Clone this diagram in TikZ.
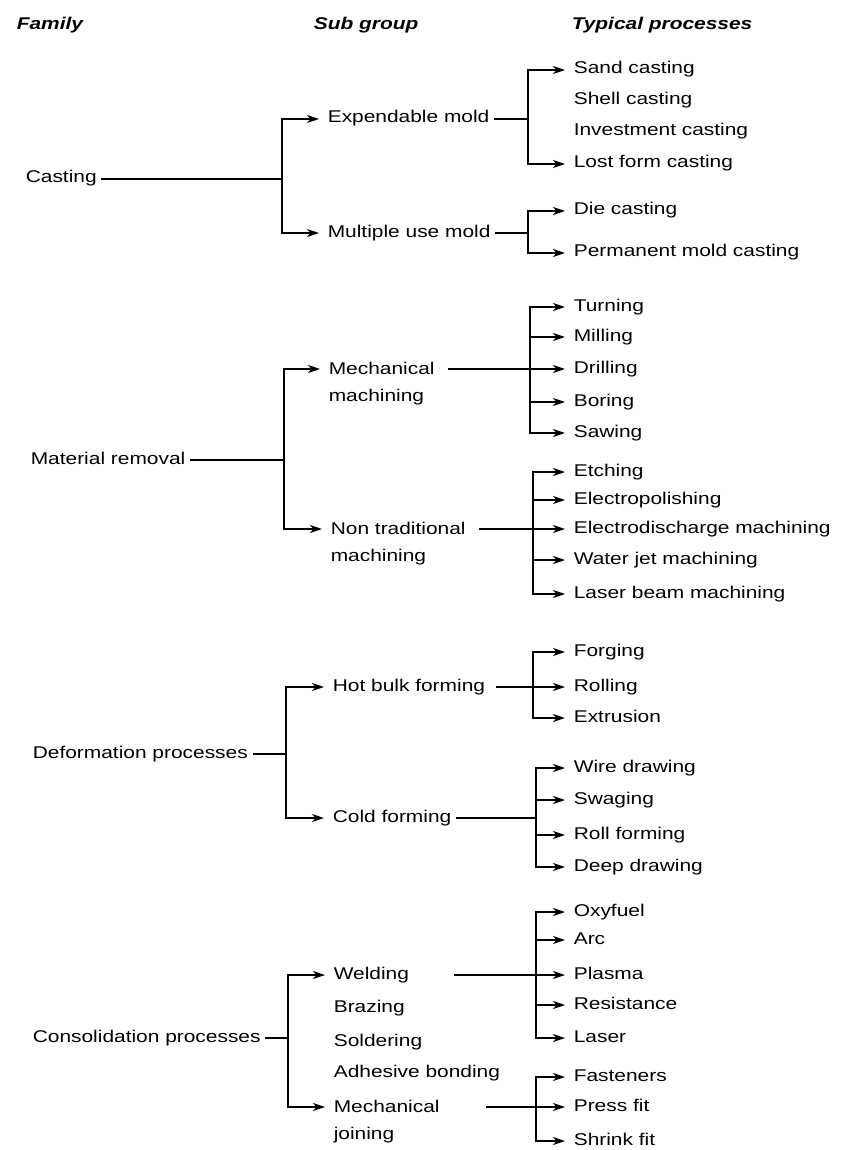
\documentclass[tikz,border=0pt]{standalone}
\usepackage{fontspec}
\setmainfont{Liberation Sans}[FakeStretch=1.23]
\usetikzlibrary{arrows.meta,positioning}

\begin{document}
\begin{tikzpicture}[x=1pt, y=-1pt, line width=1.6pt,
  every node/.style = {font = \fontsize{17}{27}\selectfont, inner xsep = 4pt, inner ysep = 0pt},
  item/.style = {anchor = west, text height = 12pt, text depth = 4pt},
  twoline/.style = {anchor = north west, align = left},
  head/.style = {anchor = west, text height = 12pt, text depth = 4pt, font = \fontsize{17}{20}\selectfont\bfseries\itshape},
  arr/.style = {-{Stealth[length = 12pt, width = 8pt, inset = 3.5pt]}, shorten > = 4pt}]
\useasboundingbox (0,0) rectangle (841,1150);

\node[head] (hfam) at (12,26) {Family};
\node[head] (hsub) at (309,26) {Sub group};
\node[head] (htyp) at (567,26) {Typical processes};

% casting
\node[item] (cast) at (21,179) {Casting};
\node[item] (expm) at (323,119) {Expendable mold};
\node[item] (mult) at (323,233) {Multiple use mold};
\node[item] (sand) at (569,70) {Sand casting};
\node[item] (shel) at (569,101) {Shell casting};
\node[item] (inve) at (569,132) {Investment casting};
\node[item] (lost) at (569,164) {Lost form casting};
\node[item] (diec) at (569,211) {Die casting};
\node[item] (perm) at (569,253) {Permanent mold casting};
\coordinate (jcast) at (282,179);
\coordinate (jexpm) at (528,119);
\coordinate (jmult) at (528,233);
\draw (cast) -- (jcast);
\draw[arr] (jcast) |- (expm);
\draw[arr] (jcast) |- (mult);
\draw (expm) -- (jexpm);
\draw[arr] (jexpm) |- (sand);
\draw[arr] (jexpm) |- (lost);
\draw (mult) -- (jmult);
\draw[arr] (jmult) |- (diec);
\draw[arr] (jmult) |- (perm);

% material removal
\node[item] (matr) at (26,460) {Material removal};
\node[twoline] (mech) at (324,361) {Mechanical\\machining};
\node[twoline] (nont) at (326,521) {Non traditional\\machining};
\node[item] (turn) at (569,307) {Turning};
\node[item] (mill) at (569,337) {Milling};
\node[item] (dril) at (569,369) {Drilling};
\node[item] (bore) at (569,402) {Boring};
\node[item] (sawi) at (569,433) {Sawing};
\node[item] (etch) at (569,472) {Etching};
\node[item] (epol) at (569,500) {Electropolishing};
\node[item] (edm) at (569,529) {Electrodischarge machining};
\node[item] (wjet) at (569,560) {Water jet machining};
\node[item] (lbm) at (569,594) {Laser beam machining};
\coordinate (jmatr) at (284,460);
\coordinate (jmech) at (530,369);
\coordinate (jnont) at (533,529);
\draw (matr) -- (jmatr);
\draw[arr] (jmatr) |- ([yshift=-8pt]mech.north west);
\draw[arr] (jmatr) |- ([yshift=-8pt]nont.north west);
\draw[arr] ([xshift=9pt,yshift=-8pt]mech.north east) -- (dril);
\draw[arr] (jmech) |- (turn);
\draw[arr] (jmech) |- (mill);
\draw[arr] (jmech) |- (bore);
\draw[arr] (jmech) |- (sawi);
\draw[arr] ([xshift=9pt,yshift=-8pt]nont.north east) -- (edm);
\draw[arr] (jnont) |- (etch);
\draw[arr] (jnont) |- (epol);
\draw[arr] (jnont) |- (wjet);
\draw[arr] (jnont) |- (lbm);

% deformation
\node[item] (defo) at (28,754) {Deformation processes};
\node[item] (hotb) at (328,687) {Hot bulk forming};
\node[item] (cold) at (328,818) {Cold forming};
\node[item] (forg) at (569,652) {Forging};
\node[item] (roll) at (569,687) {Rolling};
\node[item] (extr) at (569,718) {Extrusion};
\node[item] (wire) at (569,768) {Wire drawing};
\node[item] (swag) at (569,800) {Swaging};
\node[item] (rolf) at (569,835) {Roll forming};
\node[item] (deep) at (569,867) {Deep drawing};
\coordinate (jdefo) at (286,754);
\coordinate (jhotb) at (533,687);
\coordinate (jcold) at (536,818);
\draw (defo) -- (jdefo);
\draw[arr] (jdefo) |- (hotb);
\draw[arr] (jdefo) |- (cold);
\draw[arr] ([xshift=6pt]hotb.east) -- (roll);
\draw[arr] (jhotb) |- (forg);
\draw[arr] (jhotb) |- (extr);
\draw (cold) -- (jcold);
\draw[arr] (jcold) |- (wire);
\draw[arr] (jcold) |- (swag);
\draw[arr] (jcold) |- (rolf);
\draw[arr] (jcold) |- (deep);

% consolidation
\node[item] (cons) at (28,1038) {Consolidation processes};
\node[item] (weld) at (329,975) {Welding};
\node[item] (braz) at (329,1008) {Brazing};
\node[item] (sold) at (329,1042) {Soldering};
\node[item] (adhe) at (329,1073) {Adhesive bonding};
\node[twoline] (mjoi) at (329,1099) {Mechanical\\joining};
\node[item] (oxyf) at (569,912) {Oxyfuel};
\node[item] (arc) at (569,940) {Arc};
\node[item] (plas) at (569,975) {Plasma};
\node[item] (resi) at (569,1005) {Resistance};
\node[item] (lase) at (569,1038) {Laser};
\node[item] (fast) at (569,1077) {Fasteners};
\node[item] (pres) at (569,1107) {Press fit};
\node[item] (shri) at (569,1141) {Shrink fit};
\coordinate (jcons) at (288,1038);
\coordinate (jweld) at (536,975);
\coordinate (jmjoi) at (536,1107);
\draw (cons) -- (jcons);
\draw[arr] (jcons) |- (weld);
\draw[arr] (jcons) |- ([yshift=-8pt]mjoi.north west);
\draw[arr] ([xshift=40pt]weld.east) -- (plas);
\draw[arr] (jweld) |- (oxyf);
\draw[arr] (jweld) |- (arc);
\draw[arr] (jweld) |- (resi);
\draw[arr] (jweld) |- (lase);
\draw[arr] ([xshift=42pt,yshift=-8pt]mjoi.north east) -- (pres);
\draw[arr] (jmjoi) |- (fast);
\draw[arr] (jmjoi) |- (shri);
\end{tikzpicture}
\end{document}
